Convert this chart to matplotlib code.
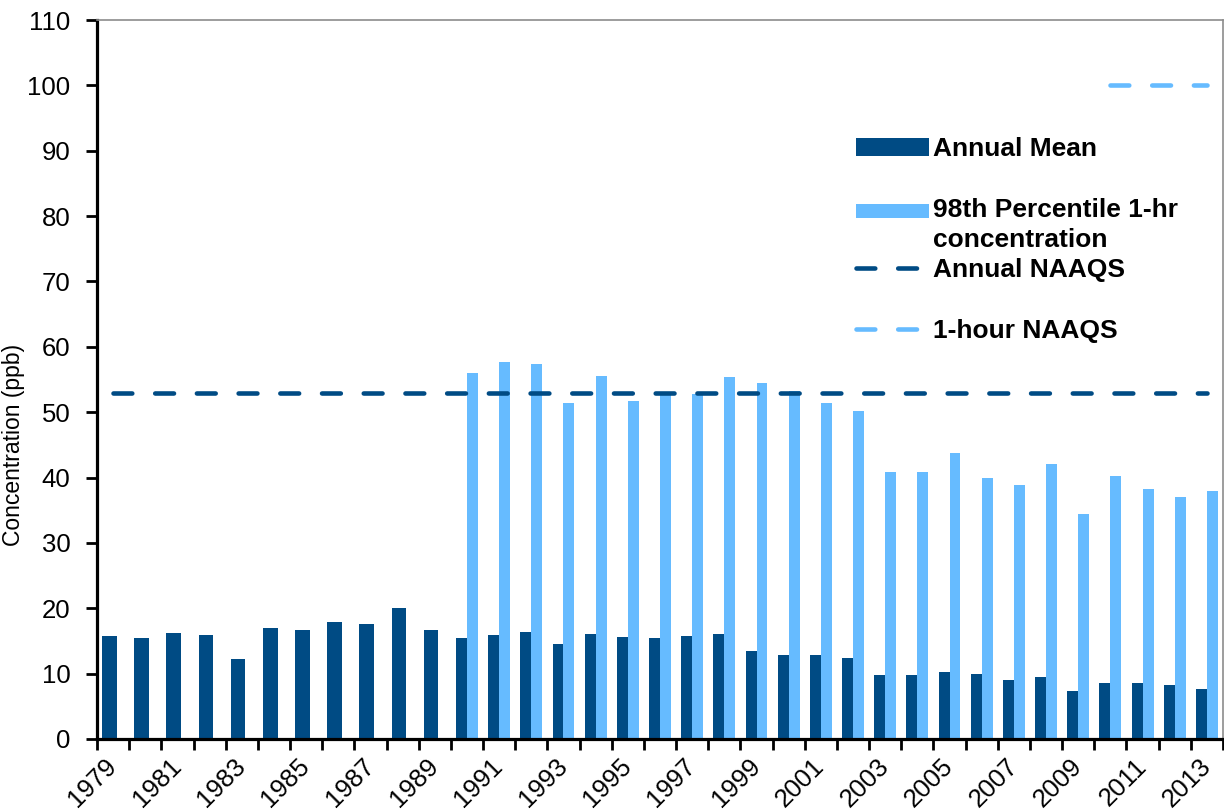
import numpy as np
import matplotlib
matplotlib.use("Agg")
import matplotlib.pyplot as plt
import matplotlib.transforms as mtransforms
from matplotlib.patches import Rectangle
from matplotlib.legend_handler import HandlerPatch

plt.rcParams['font.family'] = ['Liberation Sans', 'DejaVu Sans']

years = list(range(1979, 2014))
annual_mean = [15.7, 15.4, 16.2, 15.9, 12.3, 17.0, 16.7, 17.9, 17.6, 20.0,
               16.6, 15.4, 15.9, 16.3, 14.6, 16.1, 15.6, 15.5, 15.7, 16.0,
               13.5, 12.9, 12.8, 12.4, 9.8, 9.8, 10.3, 10.0, 9.1, 9.5,
               7.3, 8.5, 8.6, 8.2, 7.7]
pct98 = [np.nan] * 11 + [56.0, 57.7, 57.3, 51.4, 55.6, 51.7, 52.9, 52.8, 55.4, 54.4,
                         53.3, 51.4, 50.2, 40.9, 40.9, 43.7, 39.9, 38.8, 42.0, 34.4,
                         40.2, 38.2, 37.1, 38.0]
annual_naaqs = [53] * 35
hour_naaqs = [np.nan] * 31 + [100] * 4

dark = '#004B84'
light = '#66BBFF'

x = np.arange(len(years))
has_pct = ~np.isnan(np.array(pct98))

fig = plt.figure(figsize=(12.24, 8.1), dpi=100)
ax = fig.add_axes([97/1224, 71/810, 1126/1224, 719/810])

# annual mean: wider when there is no 98th percentile bar next to it
w_dark = np.where(has_pct, 0.34, 0.46)
off_dark = np.where(has_pct, -0.17, -0.115)
b1 = ax.bar(x + off_dark, annual_mean, width=w_dark, color=dark, zorder=2)
b2 = ax.bar(x + 0.17, pct98, width=0.34, color=light, zorder=2)

l1, = ax.plot(x, annual_naaqs, color=dark, lw=3.3, dash_capstyle='round', zorder=3)
l2, = ax.plot(x, hour_naaqs, color=light, lw=3.3, dash_capstyle='round', zorder=3)
for ln in (l1, l2):
    ln.set_dashes((4.1, 5.0))

ax.set_xlim(-0.5, 34.47)
ax.set_ylim(0, 110)
ax.set_yticks(np.arange(0, 111, 10))

# tick marks between categories, labels on every other year
ax.set_xticks(np.arange(-0.5, 35, 1))
ax.set_xticklabels([])
ax.set_xticks(x[::2], minor=True)
ax.set_xticklabels([str(y) for y in years[::2]], minor=True, rotation=45,
                   ha='right', va='center', rotation_mode='anchor', fontsize=18.5)
shift = mtransforms.ScaledTranslation(5/100, 0, fig.dpi_scale_trans)
for lab in ax.get_xticklabels(minor=True):
    lab.set_transform(lab.get_transform() + shift)
ax.tick_params(axis='x', which='major', direction='out', length=8, width=2)
ax.tick_params(axis='x', which='minor', length=0, pad=17)
ax.tick_params(axis='y', direction='out', length=8, width=2, labelsize=18.5, pad=11)

for s in ('left', 'bottom'):
    ax.spines[s].set_linewidth(2.3)
    ax.spines[s].set_color('black')
for s in ('top', 'right'):
    ax.spines[s].set_linewidth(1.2)
    ax.spines[s].set_color('#8c8c8c')

ax.set_ylabel('Concentration (ppb)', fontsize=16.5)
ax.yaxis.set_label_coords(-0.064, 0.409)


# the two-line entry keeps its swatch next to the first line
def top_patch(legend, orig_handle, xdescent, ydescent, width, height, fontsize):
    return Rectangle((-xdescent, -ydescent + 11.5), width, height * 0.8)


h2 = b2.patches[int(np.argmax(has_pct))]

leg_kw = dict(loc='upper left', bbox_transform=fig.transFigure, frameon=False,
              prop={'weight': 'bold', 'size': 19}, handlelength=2.75,
              handletextpad=0.15, labelspacing=1.4, borderpad=0, borderaxespad=0)
leg1 = ax.legend([b1, h2], ['Annual Mean', '98th Percentile 1-hr\nconcentration'],
                 bbox_to_anchor=(856/1224, 1 - 137/810),
                 handler_map={h2: HandlerPatch(patch_func=top_patch)}, **leg_kw)
leg1.get_texts()[1].set_linespacing(1.3)
ax.add_artist(leg1)
ax.legend([l1, l2], ['Annual NAAQS', '1-hour NAAQS'],
          bbox_to_anchor=(856/1224, 1 - 258/810), **leg_kw)

fig.savefig('out.png', dpi=100)
